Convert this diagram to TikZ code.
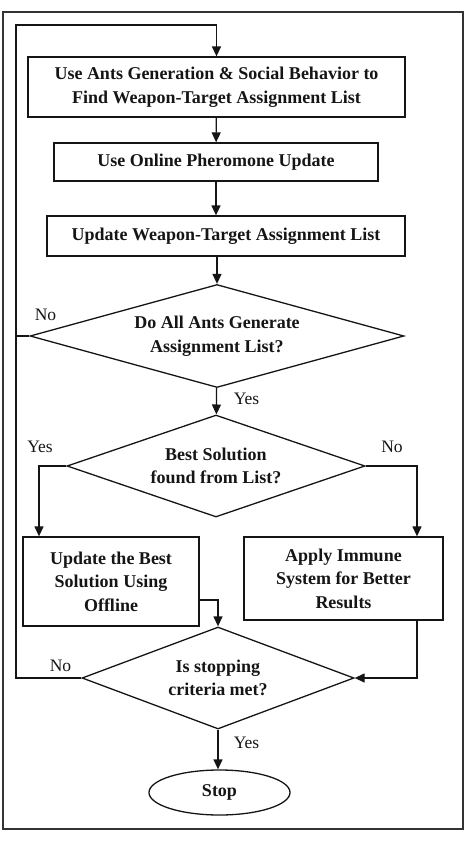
\documentclass[tikz,border=0pt]{standalone}
\usepackage{fontspec}
\setmainfont{Liberation Serif}
\usetikzlibrary{arrows.meta, positioning, shapes.geometric}
\definecolor{linecol}{HTML}{151515}
\definecolor{framecol}{HTML}{333333}
\tikzset{
  bnode/.style={rectangle, draw, inner sep=0pt, align=center, font=\bfseries\fontsize{18}{23.5}\selectfont},
  qnode/.style={diamond, draw, inner sep=0pt, align=center, font=\bfseries\fontsize{18}{23.5}\selectfont},
  tnode/.style={ellipse, draw, inner sep=0pt, font=\bfseries\fontsize{18}{23.5}\selectfont},
  lbl/.style={inner sep=0pt, font=\fontsize{17.5}{20}\selectfont},
}

\begin{document}
\begin{tikzpicture}[x=1pt, y=-1pt, >={Triangle[length=10pt, width=9pt]}, line width=1.3pt, color=linecol]
  \useasboundingbox (0,0) rectangle (469,841);
  \draw[framecol, line width=2pt] (3,12) rectangle (463,829);
  % steps
  \node[bnode, minimum width=377pt, minimum height=60pt] (find) at (216.5,87) {Use Ants Generation \& Social Behavior to\\Find Weapon-Target Assignment List};
  \node[bnode, minimum width=324pt, minimum height=38pt] (online) at (216,162) {Use Online Pheromone Update};
  \node[bnode, minimum width=358pt, minimum height=40pt] (update) at (226,236) {Update Weapon-Target Assignment List};
  \node[qnode, minimum width=374pt, minimum height=103pt, aspect=3.6] (allq) at (217,336) {Do All Ants Generate\\Assignment List?};
  \node[qnode, minimum width=298pt, minimum height=102pt, aspect=2.9] (bestq) at (216,466) {Best Solution\\found from List?};
  \node[bnode, minimum width=176pt, minimum height=89pt] (best) at (111,581.5) {Update the Best\\Solution Using\\Offline};
  \node[bnode, minimum width=199pt, minimum height=83pt] (immune) at (343.5,578.5) {Apply Immune\\System for Better\\Results};
  \node[qnode, minimum width=272pt, minimum height=102pt, aspect=2.7] (critq) at (218,678) {Is stopping\\criteria met?};
  \node[tnode, minimum width=141pt, minimum height=45pt] (stop) at (219.5,792.5) {Stop};
  \coordinate (loopbl) at (16,678);
  \coordinate (looptl) at (16,25);
  \coordinate (noR) at (417,466);
  \coordinate (yesL) at (39,466);
  % connectors
  \draw[->] (critq.west) -- (loopbl) -- (looptl) -| (find.north);
  \draw[->] (find) -- (online);
  \draw[->] (online.south) -- (online.south |- update.north);
  \draw[->] (update.south -| allq.north) -- (allq.north);
  \draw (allq.west) -- (allq.west -| looptl);
  \draw[->] (allq) -- (bestq);
  \draw[->] (bestq.west) -- (yesL) -- (yesL |- best.north);
  \draw[->] (bestq.east) -- (noR) -- (noR |- immune.north);
  \draw[->] ([yshift=-18.5pt]best.east) -| (critq.north);
  \draw[->] (immune.south -| noR) |- (critq.east);
  \draw[->] (critq.south) -- (critq.south |- stop.north);
  % labels
  \node[lbl] (noA) at (45.5,315) {No};
  \node[lbl] (yesA) at (246.5,399) {Yes};
  \node[lbl] (yesB) at (40,447) {Yes};
  \node[lbl] (noB) at (392,447) {No};
  \node[lbl] (noC) at (60.5,666) {No};
  \node[lbl] (yesC) at (246.5,743) {Yes};
\end{tikzpicture}
\end{document}
